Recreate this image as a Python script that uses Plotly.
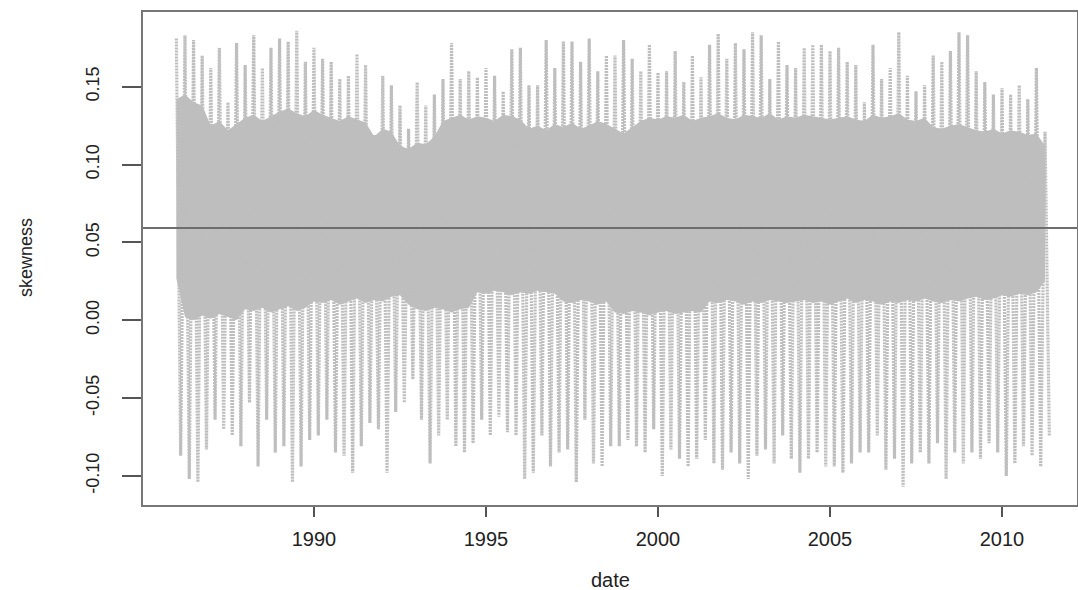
import numpy as np
import plotly.graph_objects as go

# decimal-year sampling grid of the envelope readings (every quarter year)
dates = [round(1986.0 + 0.25 * i, 2) for i in range(102)]

# local maxima of the rolling skewness
skew_peaks = [
    0.181, 0.183, 0.180, 0.170, 0.162, 0.175, 0.140, 0.178, 0.164, 0.183,
    0.162, 0.175, 0.181, 0.179, 0.186, 0.166, 0.175, 0.168, 0.166, 0.155,
    0.157, 0.171, 0.164, 0.119, 0.157, 0.151,
    0.138, 0.123, 0.153, 0.138, 0.145, 0.155, 0.178, 0.155, 0.160, 0.156,
    0.162, 0.157, 0.147, 0.174, 0.175, 0.151, 0.151, 0.180, 0.162, 0.179,
    0.179, 0.166, 0.181, 0.160, 0.170,
    0.170, 0.180, 0.168, 0.160, 0.177, 0.159, 0.160, 0.173, 0.153, 0.170,
    0.156, 0.177, 0.184, 0.168, 0.178, 0.174, 0.185, 0.183, 0.155, 0.179,
    0.164, 0.162, 0.175, 0.177, 0.177, 0.173,
    0.175, 0.166, 0.164, 0.140, 0.177, 0.155, 0.162, 0.185, 0.157, 0.147,
    0.151, 0.170, 0.166, 0.173, 0.185, 0.183, 0.160, 0.153, 0.145, 0.149,
    0.145, 0.151, 0.142, 0.162, 0.121,
]

# local minima of the rolling skewness
skew_troughs = [
    -0.087, -0.102, -0.104, -0.083, -0.064, -0.070, -0.074, -0.081, -0.053, -0.094,
    -0.064, -0.085, -0.081, -0.104, -0.094, -0.077, -0.074, -0.064, -0.085, -0.087,
    -0.098, -0.081, -0.066, -0.070, -0.098, -0.059,
    -0.053, -0.038, -0.064, -0.092, -0.074, -0.064, -0.081, -0.085, -0.079, -0.064,
    -0.074, -0.062, -0.072, -0.074, -0.102, -0.098, -0.074, -0.094, -0.085, -0.083,
    -0.104, -0.064, -0.092, -0.094, -0.081,
    -0.081, -0.077, -0.081, -0.085, -0.070, -0.100, -0.083, -0.089, -0.094, -0.089,
    -0.077, -0.092, -0.096, -0.085, -0.092, -0.102, -0.087, -0.083, -0.092, -0.074,
    -0.089, -0.098, -0.089, -0.085, -0.094, -0.094,
    -0.098, -0.092, -0.085, -0.085, -0.074, -0.096, -0.089, -0.107, -0.092, -0.085,
    -0.092, -0.079, -0.102, -0.085, -0.092, -0.085, -0.089, -0.079, -0.085, -0.100,
    -0.092, -0.081, -0.087, -0.094, -0.074,
]

# upper / lower edge of the densely overplotted (solid) core
core_hi = [
    0.142, 0.145, 0.140, 0.138, 0.125, 0.128, 0.122, 0.126, 0.130, 0.132,
    0.128, 0.131, 0.134, 0.136, 0.133, 0.131, 0.135, 0.132, 0.130, 0.128,
    0.131, 0.129, 0.127, 0.118, 0.123, 0.121,
    0.112, 0.110, 0.114, 0.113, 0.118, 0.128, 0.130, 0.132, 0.129, 0.131,
    0.130, 0.128, 0.132, 0.131, 0.129, 0.123, 0.125, 0.122, 0.126, 0.124,
    0.127, 0.123, 0.125, 0.128, 0.126,
    0.123, 0.120, 0.124, 0.128, 0.130, 0.129, 0.131, 0.130, 0.132, 0.128,
    0.130, 0.131, 0.133, 0.130, 0.129, 0.132, 0.131, 0.130, 0.133, 0.129,
    0.131, 0.130, 0.132, 0.131, 0.130, 0.129,
    0.130, 0.131, 0.129, 0.128, 0.132, 0.130, 0.131, 0.133, 0.129, 0.128,
    0.130, 0.124, 0.123, 0.125, 0.126, 0.124, 0.122, 0.121, 0.123, 0.120,
    0.122, 0.121, 0.119, 0.120, 0.112,
]
core_lo = [
    0.027, 0.002, 0.000, 0.003, 0.001, 0.004, 0.002, 0.000, 0.007, 0.006,
    0.008, 0.005, 0.007, 0.009, 0.006, 0.008, 0.012, 0.011, 0.013, 0.010,
    0.012, 0.014, 0.011, 0.013, 0.012, 0.015,
    0.016, 0.010, 0.007, 0.006, 0.008, 0.007, 0.005, 0.007, 0.008, 0.018,
    0.017, 0.019, 0.018, 0.016, 0.018, 0.017, 0.019, 0.018, 0.017, 0.012,
    0.011, 0.013, 0.012, 0.010, 0.012,
    0.005, 0.004, 0.006, 0.005, 0.003, 0.005, 0.006, 0.004, 0.005, 0.006,
    0.005, 0.012, 0.011, 0.013, 0.012, 0.010, 0.012, 0.011, 0.013, 0.012,
    0.011, 0.012, 0.013, 0.011, 0.012, 0.010,
    0.012, 0.014, 0.011, 0.013, 0.012, 0.010, 0.012, 0.011, 0.013, 0.012,
    0.014, 0.012, 0.011, 0.013, 0.012, 0.014, 0.015, 0.013, 0.014, 0.016,
    0.015, 0.017, 0.016, 0.018, 0.025,
]

mean_skew = 0.0592

x_ticks = [1990, 1995, 2000, 2005, 2010]
x_tick_labels = ["1990", "1995", "2000", "2005", "2010"]
y_ticks = [-0.10, -0.05, 0.00, 0.05, 0.10, 0.15]
y_tick_labels = ["-0.10", "-0.05", "0.00", "0.05", "0.10", "0.15"]

# zig-zag series: peak at each date, trough half-way to the next one
zz_x, zz_y = [], []
for i, d in enumerate(dates):
    zz_x += [d, d + 0.125]
    zz_y += [skew_peaks[i], skew_troughs[i]]

GREY = "#BEBEBE"
FONT = "Liberation Sans, Arial, sans-serif"

fig = go.Figure()
fig.add_trace(go.Scatter(x=dates, y=core_hi, mode="lines",
                         line=dict(width=0, color=GREY), hoverinfo="skip",
                         showlegend=False))
fig.add_trace(go.Scatter(x=dates, y=core_lo, mode="lines", fill="tonexty",
                         fillcolor=GREY, line=dict(width=0, color=GREY),
                         hoverinfo="skip", showlegend=False))
fig.add_trace(go.Scatter(x=zz_x, y=zz_y, mode="lines",
                         line=dict(width=3.2, color=GREY, dash="2px,1px"),
                         showlegend=False))

fig.add_shape(type="line", xref="paper", x0=0, x1=1, yref="y",
              y0=mean_skew, y1=mean_skew, line=dict(color="#6E6E6E", width=2))

fig.update_layout(
    width=1078, height=590,
    margin=dict(l=143, r=1, t=12, b=85),
    paper_bgcolor="white", plot_bgcolor="white",
    font=dict(family=FONT, color="#222222"),
    xaxis=dict(range=[1985.03, 2012.18], tickvals=x_ticks,
               ticktext=x_tick_labels, ticks="outside", ticklen=10,
               tickcolor="#555555", tickwidth=1.5, showgrid=False,
               zeroline=False, showline=True, mirror=True,
               linecolor="#777777", linewidth=1.5, automargin=False,
               tickfont=dict(size=20), ticklabelstandoff=5),
    yaxis=dict(range=[-0.1187, 0.198], tickvals=y_ticks,
               ticktext=y_tick_labels, ticks="outside", ticklen=19,
               tickcolor="#555555", tickwidth=1.5, showgrid=False,
               zeroline=False, showline=True, mirror=True,
               linecolor="#777777", linewidth=1.5, tickangle=-90,
               automargin=False,
               tickfont=dict(size=18), ticklabelstandoff=16),
    annotations=[
        dict(text="skewness", xref="paper", yref="paper",
             x=(26 - 143) / 934, y=(505 - 258) / 493, textangle=-90,
             showarrow=False, xanchor="center", yanchor="middle",
             font=dict(size=18)),
        dict(text="date", xref="paper", yref="paper",
             x=(610 - 143) / 934, y=(505 - 580) / 493, showarrow=False,
             xanchor="center", yanchor="middle", font=dict(size=20)),
    ],
)

fig.write_html("out.html",
               config={"displayModeBar": False},
               post_script="document.body.style.margin='0px';"
                           "document.body.style.overflow='hidden';")
